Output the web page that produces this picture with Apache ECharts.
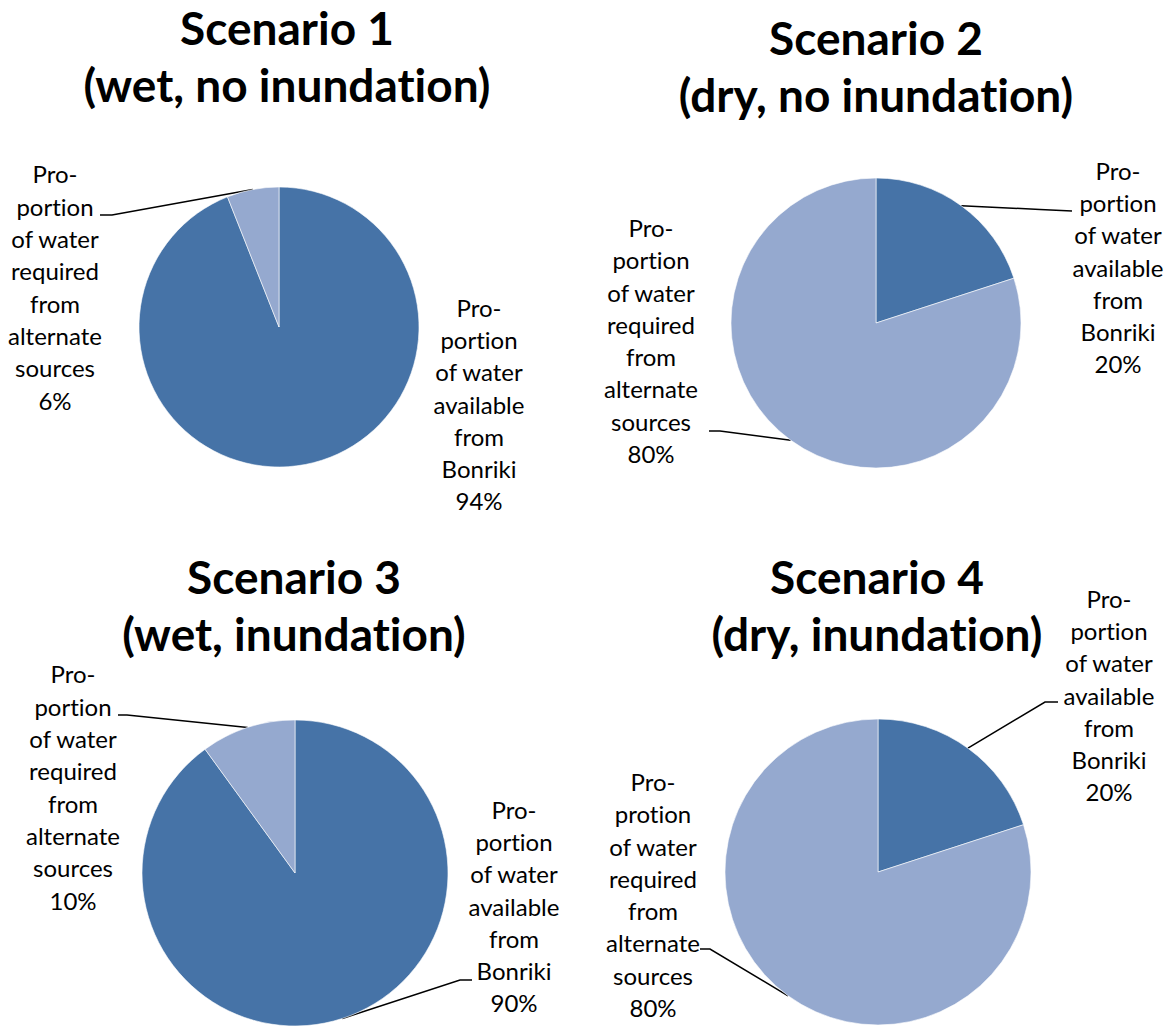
<!DOCTYPE html>
<html><head><meta charset="utf-8">
<script src="https://cdn.jsdelivr.net/npm/echarts@6/dist/echarts.min.js"></script>
<style>
html,body{margin:0;padding:0;background:#fff}
#c{width:1171px;height:1027px}
#c text{font-variant-ligatures:none;font-feature-settings:"liga" 0,"clig" 0}
</style>
</head><body><div id="c"></div>
<script>
// ---- data ----
const scenarioTitles = [
  'Scenario 1\n(wet, no inundation)',
  'Scenario 2\n(dry, no inundation)',
  'Scenario 3\n(wet, inundation)',
  'Scenario 4\n(dry, inundation)'
];
const bonrikiLabels = [
  'Pro-\nportion\nof water\navailable\nfrom\nBonriki',
  'Pro-\nportion\nof water\navailable\nfrom\nBonriki',
  'Pro-\nportion\nof water\navailable\nfrom\nBonriki',
  'Pro-\nportion\nof water\navailable\nfrom\nBonriki'
];
const alternateLabels = [
  'Pro-\nportion\nof water\nrequired\nfrom\nalternate\nsources',
  'Pro-\nportion\nof water\nrequired\nfrom\nalternate\nsources',
  'Pro-\nportion\nof water\nrequired\nfrom\nalternate\nsources',
  'Pro-\nprotion\nof water\nrequired\nfrom\nalternate\nsources'
];
const bonrikiValues = [94, 20, 90, 20];
const alternateValues = [6, 80, 10, 80];

// ---- layout (positions / styles only) ----
const FONT = 'Lato, "Open Sans", sans-serif';
const COLORS = ['#4673A7', '#95A9CF'];
const pies = [
  { center: [279, 327], r: 140, title: [287, -1.5],
    anchors: [[479, 404], [55, 287]],
    lines: [null, [[112, 215], [100, 215]]] },
  { center: [876, 323], r: 145, title: [876, 8.5],
    anchors: [[1118, 267], [651, 340.5]],
    lines: [[[1040, 209.5], [1072, 211]], [[720, 431], [709, 431]]] },
  { center: [295, 873], r: 153, title: [294, 547.5],
    anchors: [[514, 906], [73, 787]],
    lines: [[[460, 980], [472, 980]], [[127, 715], [118, 715]]] },
  { center: [878, 872], r: 153, title: [877, 547.5],
    anchors: [[1109, 695], [653, 894.5]],
    lines: [[[1045, 702], [1058, 702]], [[710, 949], [700, 949]]] }
];

const chart = echarts.init(document.getElementById('c'), null, { renderer: 'svg' });

const title = scenarioTitles.map((t, i) => ({
  text: t,
  left: pies[i].title[0],
  top: pies[i].title[1],
  textAlign: 'center',
  padding: 0,
  textStyle: { fontFamily: FONT, fontWeight: 'bold', fontSize: 46, lineHeight: 57, color: '#000' }
}));

const series = pies.map((p, i) => ({
  type: 'pie',
  center: p.center,
  radius: p.r,
  startAngle: 90,
  clockwise: true,
  avoidLabelOverlap: false,
  animation: false,
  silent: true,
  itemStyle: { borderColor: '#ffffff', borderWidth: 0.6 },
  label: {
    show: true, position: 'outside', fontFamily: FONT, fontSize: 24, lineHeight: 32.3,
    color: '#000', align: 'center',
    formatter: (q) => q.name + '\n' + q.value + '%'
  },
  labelLine: { show: true, length: 10, length2: 10, lineStyle: { color: '#000', width: 1.5 } },
  labelLayout: (params) => {
    const cfg = pies[params.seriesIndex];
    const a = cfg.anchors[params.dataIndex];
    const ln = cfg.lines[params.dataIndex];
    const res = { x: a[0], y: a[1], align: 'center', verticalAlign: 'middle', hideOverlap: false };
    if (ln && params.labelLinePoints) {
      res.labelLinePoints = [params.labelLinePoints[0], ln[0], ln[1]];
    }
    return res;
  },
  data: [
    { name: bonrikiLabels[i], value: bonrikiValues[i], itemStyle: { color: COLORS[0] },
      labelLine: { show: !!p.lines[0] } },
    { name: alternateLabels[i], value: alternateValues[i], itemStyle: { color: COLORS[1] },
      labelLine: { show: !!p.lines[1] } }
  ]
}));

chart.setOption({ backgroundColor: '#ffffff', title, series });
</script>
</body></html>
